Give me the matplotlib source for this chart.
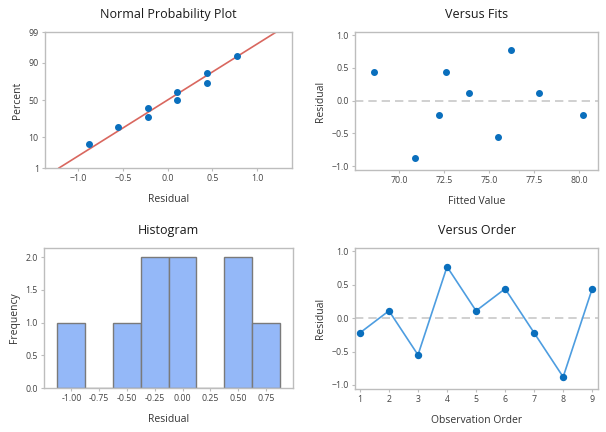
import matplotlib
matplotlib.use('Agg')
import matplotlib.pyplot as plt
import numpy as np
from statistics import NormalDist

plt.rcParams['font.family'] = ['Open Sans', 'DejaVu Sans']

# data
residuals = [-0.22, 0.11, -0.55, 0.77, 0.11, 0.44, -0.22, -0.88, 0.44]
fitted = [72.2, 73.9, 75.5, 76.2, 77.8, 68.6, 80.2, 70.9, 72.6]
order = [1, 2, 3, 4, 5, 6, 7, 8, 9]
prob_percent = [6.8, 17.6, 28.4, 39.2, 50.0, 60.8, 71.6, 82.4, 93.2]
prob_ticks = [1, 10, 50, 90, 99]
hist_edges = [-1.125, -0.875, -0.625, -0.375, -0.125, 0.125, 0.375, 0.625, 0.875]

nd = NormalDist()
def z(p):
    return nd.inv_cdf(p / 100.0)

blue = '#0a6fbd'
frame_col = '#bdbdbd'
tick_col = '#444444'

fig = plt.figure(figsize=(6.06, 4.32), dpi=100)
W, H = 606, 432
def add_ax(l, r, t, b):
    return fig.add_axes([l / W, 1 - b / H, (r - l) / W, (b - t) / H])

ax1 = add_ax(45, 292, 32, 168)
ax2 = add_ax(355, 598, 32, 170)
ax3 = add_ax(44, 293, 248, 388)
ax4 = add_ax(355, 598, 248, 389)

def style(ax, title, xlabel, ylabel):
    for s in ax.spines.values():
        s.set_color(frame_col)
        s.set_linewidth(1.0)
    ax.tick_params(colors=frame_col, labelcolor=tick_col, labelsize=6.3, length=2.5, width=0.8, pad=2)
    ax.set_title(title, fontsize=9, fontweight='normal', color='#1a1a1a', pad=10)
    ax.set_xlabel(xlabel, fontsize=7.5, color='#333333', labelpad=8)
    ax.set_ylabel(ylabel, fontsize=7.5, color='#333333', labelpad=4)

# normal probability plot
res_sorted = sorted(residuals)
mu = np.mean(residuals)
sd = np.std(residuals, ddof=1)
zl = np.array([z(1), z(99)])
ax1.plot(mu + sd * zl, zl, color='#d9675f', lw=1.2, zorder=2)
ax1.scatter(res_sorted, [z(p) for p in prob_percent], s=16, color=blue, zorder=3)
ax1.set_ylim(z(1), z(99))
ax1.set_yticks([z(p) for p in prob_ticks])
ax1.set_yticklabels([str(p) for p in prob_ticks])
ax1.set_xlim(-1.37, 1.39)
ax1.set_xticks([-1.0, -0.5, 0.0, 0.5, 1.0])
style(ax1, 'Normal Probability Plot', 'Residual', 'Percent')

# versus fits
ax2.axhline(0, color='#c8c8c8', lw=1.2, ls=(0, (5, 3)), zorder=1)
ax2.scatter(fitted, residuals, s=16, color=blue, zorder=3)
ax2.set_xlim(67.56, 81.06)
ax2.set_ylim(-1.06, 1.05)
ax2.set_xticks([70.0, 72.5, 75.0, 77.5, 80.0])
ax2.set_yticks([-1.0, -0.5, 0.0, 0.5, 1.0])
style(ax2, 'Versus Fits', 'Fitted Value', 'Residual')

# histogram
ax3.hist(residuals, bins=hist_edges, color='#94b8f8', edgecolor='#7a7a7a', linewidth=1.0)
ax3.set_xlim(-1.246, 0.993)
ax3.set_ylim(0, 2.14)
ax3.set_xticks([-1.0, -0.75, -0.5, -0.25, 0.0, 0.25, 0.5, 0.75])
ax3.set_xticklabels(['-1.00', '-0.75', '-0.50', '-0.25', '0.00', '0.25', '0.50', '0.75'])
ax3.set_yticks([0.0, 0.5, 1.0, 1.5, 2.0])
style(ax3, 'Histogram', 'Residual', 'Frequency')

# versus order
ax4.axhline(0, color='#c8c8c8', lw=1.2, ls=(0, (5, 3)), zorder=1)
ax4.plot(order, residuals, color='#4d9de0', lw=1.2, marker='o', ms=4.3,
         mfc=blue, mec=blue, zorder=3)
ax4.set_xlim(0.83, 9.2)
ax4.set_ylim(-1.06, 1.05)
ax4.set_xticks(order)
ax4.set_yticks([-1.0, -0.5, 0.0, 0.5, 1.0])
style(ax4, 'Versus Order', 'Observation Order', 'Residual')

fig.savefig('out.png', dpi=100, facecolor='white')
